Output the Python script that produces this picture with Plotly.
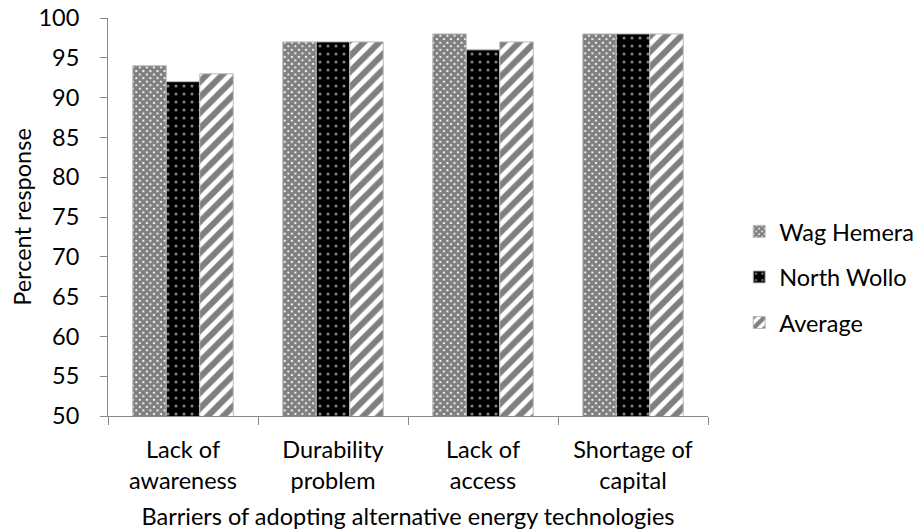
import plotly.graph_objects as go

categories = ["Lack of<br>awareness", "Durability<br>problem", "Lack of<br>access", "Shortage of<br>capital"]
wag_hemera = [94, 97, 98, 98]
north_wollo = [92, 97, 96, 98]
average = [93, 97, 97, 98]
y_ticks = [50, 55, 60, 65, 70, 75, 80, 85, 90, 95, 100]

FONT = "Lato"
FS = 23.5

fig = go.Figure()
fig.add_trace(go.Bar(
    x=categories, y=wag_hemera, name="Wag Hemera", legendgroup="a",
    marker=dict(color="white", line=dict(color="#bbbbbb", width=1),
                pattern=dict(shape="x", fgcolor="black", bgcolor="white", size=5, solidity=0.85)),
))
fig.add_trace(go.Bar(
    x=categories, y=north_wollo, name="North Wollo", legendgroup="b",
    marker=dict(color="black", line=dict(color="#bbbbbb", width=1),
                pattern=dict(shape=".", fgcolor="white", bgcolor="black", size=8, solidity=0.12)),
))
fig.add_trace(go.Bar(
    x=categories, y=average, name="Average", legendgroup="c",
    marker=dict(color="white", line=dict(color="#bbbbbb", width=1),
                pattern=dict(shape="/", fgcolor="black", bgcolor="white", size=11, solidity=0.55)),
))

fig.update_layout(
    width=915, height=532,
    margin=dict(l=108, r=207, t=18, b=116, autoexpand=False),
    paper_bgcolor="white", plot_bgcolor="white",
    barmode="group", bargap=0.33, bargroupgap=0,
    font=dict(family=FONT, size=FS, color="black"),
    legend=dict(x=1.052, y=0.349, xanchor="left", yanchor="middle",
                font=dict(family=FONT, size=FS), tracegroupgap=12,
                traceorder="grouped"),
    xaxis=dict(
        automargin=False,
        showline=True, linecolor="#888888", linewidth=1,
        ticks="outside", ticklen=8, tickcolor="#888888",
        tickson="boundaries",
        ticklabelstandoff=13,
        title=dict(text="Barriers of adopting alternative energy technologies", standoff=15,
                   font=dict(family=FONT, size=FS)),
        tickfont=dict(family=FONT, size=FS),
    ),
    yaxis=dict(
        automargin=False,
        range=[50, 100], tickvals=y_ticks,
        showline=True, linecolor="#888888", linewidth=1,
        ticks="outside", ticklen=7, tickcolor="#888888",
        ticklabelstandoff=16,
        showgrid=False, zeroline=False,
        title=dict(text="Percent response", standoff=0, font=dict(family=FONT, size=FS)),
        tickfont=dict(family=FONT, size=FS),
    ),
)

fig.write_html("out.html", config={"displayModeBar": False})

# remove the browser's default body margin so the figure sits at the page origin
with open("out.html", "r", encoding="utf-8") as f:
    html = f.read()
html = html.replace("<body>", '<body style="margin:0">', 1)
with open("out.html", "w", encoding="utf-8") as f:
    f.write(html)
